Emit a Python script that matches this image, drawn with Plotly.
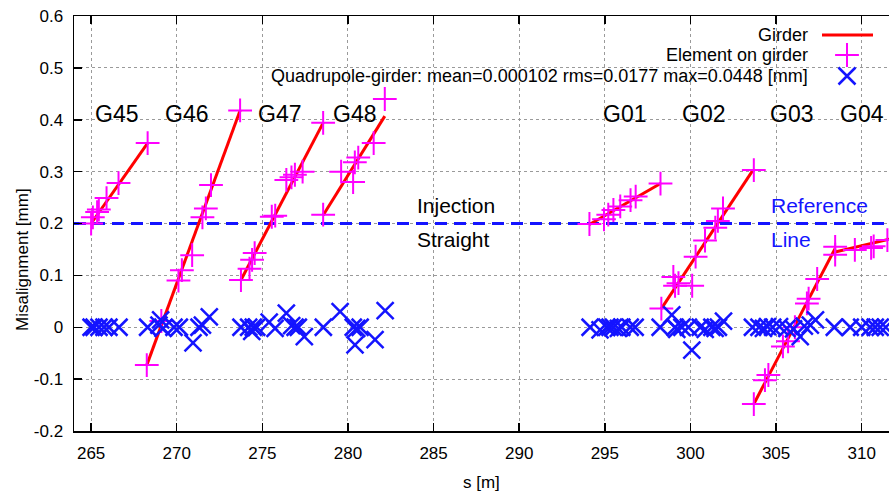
import plotly.graph_objects as go

# ---------------- data ----------------
girder_names = ["G45", "G46", "G47", "G48", "G01", "G02", "G03", "G04"]
girder_s_start = [265.0, 268.25, 273.75, 278.55, 294.1, 298.3, 303.7, 308.45]
girder_s_end = [268.3, 273.7, 278.55, 282.15, 298.25, 303.65, 308.45, 312.0]
girder_v_start = [0.200, -0.073, 0.091, 0.216, 0.198, 0.036, -0.148, 0.145]
girder_v_end = [0.355, 0.418, 0.394, 0.407, 0.277, 0.303, 0.152, 0.173]

label_s = [265.1, 269.2, 274.65, 279.0, 294.75, 299.4, 304.55, 308.6]
label_v = 0.412

element_s = [
    265.0, 265.1, 265.35, 265.45, 265.9, 266.6, 268.3,
    268.25, 269.1, 270.1, 270.3, 270.9, 271.5, 271.7, 272.0, 273.7,
    273.75, 274.25, 274.4, 274.55, 275.55, 275.75, 276.4, 276.7, 276.9, 277.35, 278.55,
    278.55, 279.6, 280.3, 280.4, 280.6, 281.5, 282.15,
    294.1, 294.95, 295.2, 295.5, 295.9, 296.5, 296.8, 298.25,
    298.3, 299.0, 299.1, 299.3, 300.1, 300.3, 300.85, 301.45, 301.6, 301.9, 303.7,
    303.7, 304.35, 304.55, 305.4, 305.7, 306.1, 306.8, 306.9, 307.4, 308.45,
    308.45, 309.6, 310.55, 310.7, 311.5,
]
element_v = [
    0.200, 0.212, 0.222, 0.227, 0.249, 0.278, 0.355,
    -0.073, 0.012, 0.090, 0.110, 0.139, 0.212, 0.229, 0.274, 0.418,
    0.091, 0.113, 0.130, 0.143, 0.213, 0.215, 0.284, 0.289, 0.294, 0.300, 0.394,
    0.217, 0.300, 0.280, 0.318, 0.327, 0.355, 0.440,
    0.199, 0.208, 0.217, 0.226, 0.233, 0.245, 0.252, 0.277,
    0.036, 0.097, 0.080, 0.085, 0.080, 0.136, 0.167, 0.192, 0.205, 0.229, 0.303,
    -0.148, -0.102, -0.092, -0.037, -0.027, 0.000, 0.046, 0.055, 0.093, 0.155,
    0.140, 0.149, 0.153, 0.156, 0.168,
]

quad_s = [
    265.0, 265.17, 265.46, 265.75, 266.04, 266.63,
    268.3, 268.96, 269.06, 269.2, 269.84, 270.15, 270.95, 271.3, 271.5, 271.9,
    273.75, 274.2, 274.38, 274.47, 274.67, 275.4, 275.74, 276.4, 276.71, 276.91, 277.1, 277.45,
    278.56, 279.54, 280.31, 280.51, 280.41, 280.71, 281.58, 282.17,
    294.14, 294.72, 295.11, 295.3, 295.5, 295.79, 295.99, 296.48, 296.77,
    298.23, 298.91, 299.1, 299.2, 299.5, 299.88, 300.08, 300.57, 300.86, 301.25, 301.44, 301.63, 301.93,
    303.62, 304.0, 304.26, 304.5, 304.8, 305.2, 305.63, 306.02, 306.41, 306.65, 307.0, 307.3,
    308.4, 309.33, 310.0, 310.49, 310.79, 311.08, 311.4,
]
quad_v = [
    0, 0, 0, 0, 0, 0,
    0, 0.004, 0.014, -0.002, 0, 0, -0.030, 0, 0.004, 0.020,
    0, 0, -0.008, 0, 0, 0.010, -0.002, 0.027, 0.003, 0, 0, -0.018,
    0, 0.030, 0, -0.002, -0.034, 0, -0.024, 0.032,
    0, -0.005, 0, 0, 0, -0.002, 0, 0, 0,
    0, 0.024, 0, -0.004, 0, 0, -0.044, 0, -0.004, 0, -0.002, 0, 0.012,
    0, 0, -0.002, 0.001, 0, 0.001, -0.002, -0.003, -0.018, 0.002, 0.004, 0.014,
    0, 0, 0, 0, 0, 0, 0,
]

reference_level = 0.2
reference_span = [264.0, 312.0]
x_ticks = [265, 270, 275, 280, 285, 290, 295, 300, 305, 310]
y_ticks = [0.6, 0.5, 0.4, 0.3, 0.2, 0.1, 0.0, -0.1, -0.2]
y_tick_text = ["0.6", "0.5", "0.4", "0.3", "0.2", "0.1", "0", "-0.1", "-0.2"]

legend_girder = "Girder"
legend_element = "Element on girder"
legend_quad = "Quadrupole-girder: mean=0.000102 rms=0.0177 max=0.0448 [mm]"

# ---------------- figure ----------------
FONT = "Liberation Sans, Arial, Helvetica, sans-serif"
W, H = 889, 494
ML, MR, MT, MB = 74, 0, 16, 63
RED, MAGENTA, BLUE = "#ff0000", "#ff00ff", "#1414ff"

fig = go.Figure()

# reference line (dashed)
fig.add_trace(go.Scatter(x=reference_span, y=[reference_level, reference_level],
                         mode="lines", line=dict(color=BLUE, width=3, dash="12px,7px"),
                         showlegend=False, hoverinfo="skip"))

# girders as one line trace with gaps
gx, gy = [], []
for s0, s1, v0, v1 in zip(girder_s_start, girder_s_end, girder_v_start, girder_v_end):
    gx += [s0, s1, None]
    gy += [v0, v1, None]
fig.add_trace(go.Scatter(x=gx, y=gy, mode="lines",
                         line=dict(color=RED, width=3), showlegend=False,
                         hoverinfo="skip"))

fig.add_trace(go.Scatter(x=element_s, y=element_v, mode="markers",
                         marker=dict(symbol="cross-thin", size=17,
                                     line=dict(color=MAGENTA, width=2)),
                         showlegend=False))

fig.add_trace(go.Scatter(x=quad_s, y=quad_v, mode="markers",
                         marker=dict(symbol="x-thin", size=17,
                                     line=dict(color=BLUE, width=2.5)),
                         showlegend=False))

# legend samples on an overlay paper-like axis
pw = W - ML - MR
ph = H - MT - MB
def px(xp):
    return (xp - ML) / pw
def py(yp):
    return (H - MB - yp) / ph

leg_text_x = px(810)
leg_rows = [py(35), py(55), py(76)]
sample_x0, sample_x1, sample_xc = px(822), px(873), px(847)

fig.add_trace(go.Scatter(x=[sample_x0, sample_x1], y=[leg_rows[0], leg_rows[0]],
                         mode="lines", line=dict(color=RED, width=3),
                         xaxis="x2", yaxis="y2", showlegend=False, cliponaxis=False))
fig.add_trace(go.Scatter(x=[sample_xc], y=[leg_rows[1]], mode="markers",
                         marker=dict(symbol="cross-thin", size=17,
                                     line=dict(color=MAGENTA, width=2)),
                         xaxis="x2", yaxis="y2", showlegend=False, cliponaxis=False))
fig.add_trace(go.Scatter(x=[sample_xc], y=[leg_rows[2]], mode="markers",
                         marker=dict(symbol="x-thin", size=17,
                                     line=dict(color=BLUE, width=2.5)),
                         xaxis="x2", yaxis="y2", showlegend=False, cliponaxis=False))

annotations = []
for txt, yy in zip([legend_girder, legend_element, legend_quad], leg_rows):
    annotations.append(dict(x=leg_text_x, y=yy, xref="paper", yref="paper",
                            text=txt, showarrow=False, xanchor="right",
                            yanchor="middle", font=dict(family=FONT, size=18, color="black")))

for name, s in zip(girder_names, label_s):
    annotations.append(dict(x=s, y=label_v, xref="x", yref="y", text=name,
                            showarrow=False, xanchor="left", yanchor="middle",
                            font=dict(family=FONT, size=23, color="black")))

annotations += [
    dict(x=283.9, y=0.234, xref="x", yref="y", text="Injection", showarrow=False,
         xanchor="left", yanchor="middle", font=dict(family=FONT, size=21, color="black")),
    dict(x=283.9, y=0.170, xref="x", yref="y", text="Straight", showarrow=False,
         xanchor="left", yanchor="middle", font=dict(family=FONT, size=21, color="black")),
    dict(x=304.6, y=0.235, xref="x", yref="y", text="Reference", showarrow=False,
         xanchor="left", yanchor="middle", font=dict(family=FONT, size=21, color=BLUE)),
    dict(x=304.6, y=0.170, xref="x", yref="y", text="Line", showarrow=False,
         xanchor="left", yanchor="middle", font=dict(family=FONT, size=21, color=BLUE)),
    dict(x=px(481), y=py(482), xref="paper", yref="paper", text="s [m]", showarrow=False,
         xanchor="center", yanchor="middle", font=dict(family=FONT, size=17, color="black")),
    dict(x=px(22), y=py(259), xref="paper", yref="paper", text="Misalignment [mm]",
         showarrow=False, textangle=-90, xanchor="center", yanchor="middle",
         font=dict(family=FONT, size=17, color="black")),
]

fig.update_layout(
    width=W, height=H,
    margin=dict(l=ML, r=MR, t=MT, b=MB, pad=0),
    paper_bgcolor="white", plot_bgcolor="white",
    showlegend=False,
    hovermode=False,
    font=dict(family=FONT, size=17, color="black"),
    annotations=annotations,
    xaxis=dict(range=[264, 264 + pw / 17.124], tickvals=x_ticks,
               ticks="inside", ticklen=8, tickwidth=1.5, tickcolor="black",
               showline=True, linewidth=1.5, linecolor="black", mirror="ticks",
               showgrid=True, gridcolor="#9a9a9a", griddash="dot", gridwidth=1,
               zeroline=False, tickfont=dict(family=FONT, size=17),
               ticklabelstandoff=6),
    yaxis=dict(range=[-0.2, 0.6], tickvals=y_ticks, ticktext=y_tick_text,
               ticks="inside", ticklen=8, tickwidth=1.5, tickcolor="black",
               showline=True, linewidth=1.5, linecolor="black", mirror=False,
               showgrid=True, gridcolor="#9a9a9a", griddash="dot", gridwidth=1,
               zeroline=False, tickfont=dict(family=FONT, size=17),
               ticklabelstandoff=6),
    xaxis2=dict(range=[0, 1], overlaying="x", visible=False, anchor="y2"),
    yaxis2=dict(range=[0, 1], overlaying="y", visible=False, anchor="x2"),
)

fig.write_html(
    "out.html",
    config={"displayModeBar": False, "staticPlot": True},
    post_script="document.body.style.margin='0';document.body.style.overflow='hidden';",
)
